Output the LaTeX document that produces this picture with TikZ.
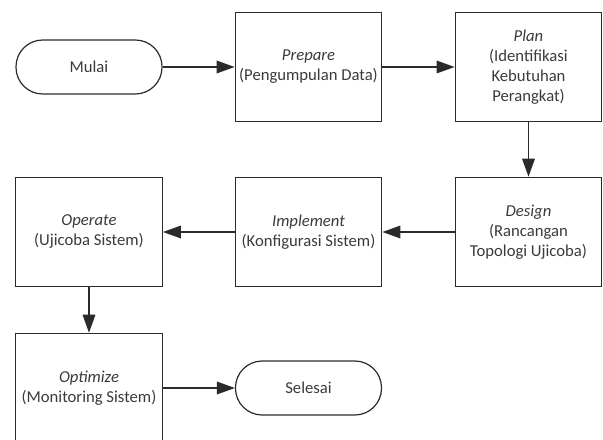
\documentclass[tikz,border=0pt]{standalone}
\usepackage{fontspec}
\setmainfont{Carlito}
\usetikzlibrary{arrows.meta}
\definecolor{linegray}{HTML}{2B2B2B}
\definecolor{textgray}{HTML}{3A3A3A}
\begin{document}
\begin{tikzpicture}[x=0.75pt, y=-0.75pt,
	box/.style={draw=linegray, line width=0.9pt, minimum width=110pt, minimum height=82pt, inner sep=0pt, align=center, text=textgray, font=\fontsize{12.5}{15}\selectfont},
	terminal/.style={draw=linegray, line width=0.9pt, rounded corners=20pt, minimum width=109.5pt, minimum height=40.5pt, inner sep=0pt, text=textgray, font=\fontsize{12.5}{15}\selectfont},
	arrow/.style={draw=linegray, line width=0.9pt, -{Triangle[length=13.5pt, width=9.5pt]}}]
	\useasboundingbox (0,0) rectangle (603,439);
	\clip (0,0) rectangle (603,439);
	
	%baris atas
	\node[terminal] (mulai) at (89, 67) {Mulai};
	\node[box] (prepare) at (308.5, 67) {\textit{Prepare}\\(Pengumpulan Data)};
	\node[box] (plan) at (528.5, 67) {\textit{Plan}\\(Identifikasi\\Kebutuhan\\Perangkat)};
	
	%baris tengah
	\node[box] (design) at (528.5, 232) {\textit{Design}\\(Rancangan\\Topologi Ujicoba)};
	\node[box] (implement) at (308.5, 232) {\textit{Implement}\\(Konfigurasi Sistem)};
	\node[box] (operate) at (89, 232) {\textit{Operate}\\(Ujicoba Sistem)};
	
	%baris bawah
	\node[box] (optimize) at (89, 388) {\textit{Optimize}\\(Monitoring Sistem)};
	\node[terminal] (selesai) at (308.5, 388) {Selesai};
	
	%panah
	\draw[arrow] (mulai) -- (prepare);
	\draw[arrow] (prepare) -- (plan);
	\draw[arrow] (plan) -- (design);
	\draw[arrow] (design) -- (implement);
	\draw[arrow] (implement) -- (operate);
	\draw[arrow] (operate) -- (optimize);
	\draw[arrow] (optimize) -- (selesai);
\end{tikzpicture}
\end{document}
